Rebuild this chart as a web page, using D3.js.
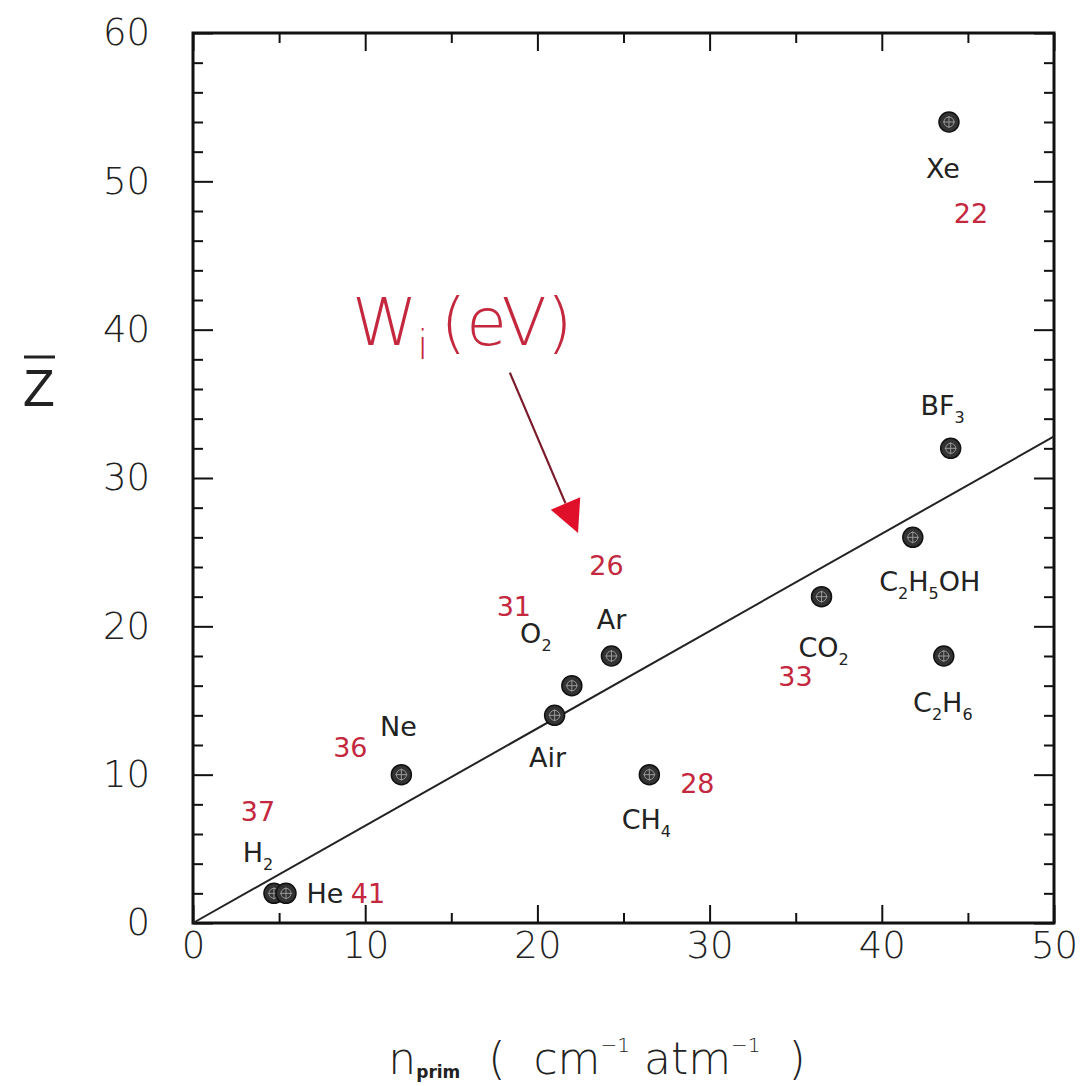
<!DOCTYPE html>
<html>
<head>
<meta charset="utf-8">
<script src="https://cdn.jsdelivr.net/npm/d3@7"></script>
<style>
  html, body { margin: 0; padding: 0; background: #fff; }
  svg { display: block; }
  text { font-family: "DejaVu Sans", sans-serif; }
</style>
</head>
<body>
<svg id="chart" width="1089" height="1086"></svg>
<script>
// ---------- data ----------
const gases      = ["H2", "He", "Ne", "Air", "O2", "Ar", "CH4", "CO2", "C2H5OH", "C2H6", "BF3", "Xe"];
const nPrim      = [4.7, 5.4, 12.1, 21.0, 22.0, 24.3, 26.5, 36.5, 41.8, 43.6, 44.0, 43.9];
const zBar       = [2, 2, 10, 14, 16, 18, 10, 22, 26, 18, 32, 54];
const wiGases    = ["H2", "He", "Ne", "O2", "Ar", "CH4", "CO2", "Xe"];
const wiValues   = [37, 41, 36, 31, 26, 28, 33, 22];
const fitX       = [0, 50];
const fitY       = [0, 32.8];
const xTicks     = [0, 10, 20, 30, 40, 50];
const yTicks     = [0, 10, 20, 30, 40, 50, 60];
const xMinorTicks = [5, 15, 25, 35, 45];
const yMinorTicks = [2, 4, 6, 8, 12, 14, 16, 18, 22, 24, 26, 28, 32, 34, 36, 38, 42, 44, 46, 48, 52, 54, 56, 58];

// ---------- layout (label placement, pixels relative to point) ----------
const nameLayout = {
  H2: [-16, -41], He: [39, 0], Ne: [-3, -48], Air: [-7, 42], O2: [-36, -52], Ar: [0, -37],
  CH4: [-3, 45], CO2: [2, 51], C2H5OH: [17, 44], C2H6: [-1, 46], BF3: [-8, -43], Xe: [-6, 46]
};
const wiLayout = {
  H2: [-16, -82], He: [82, 0], Ne: [-51, -27], O2: [-58, -79], Ar: [-5, -91],
  CH4: [48, 9], CO2: [-26, 80], Xe: [22, 91]
};
const formula = {
  H2: [["H"], ["2", "sub"]], He: [["He"]], Ne: [["Ne"]], Air: [["Air"]], O2: [["O"], ["2", "sub"]],
  Ar: [["Ar"]], CH4: [["CH"], ["4", "sub"]], CO2: [["CO"], ["2", "sub"]],
  C2H5OH: [["C"], ["2", "sub"], ["H"], ["5", "sub"], ["OH"]],
  C2H6: [["C"], ["2", "sub"], ["H"], ["6", "sub"]], BF3: [["BF"], ["3", "sub"]], Xe: [["Xe"]]
};

const red = "#c4283e";
const svg = d3.select("#chart");
const L = 193, R = 1054, T = 33, B = 923;

const x = d3.scaleLinear().domain([0, 50]).range([L, R]);
const y = d3.scaleLinear().domain([0, 60]).range([B, T]);

// ---------- axes ----------
function styleAxis(g) {
  g.select(".domain").remove();
  g.selectAll(".tick line").attr("stroke", "#111").attr("stroke-width", 2);
  g.selectAll(".tick text").attr("fill", "#222").style("font-size", "37px")
    .style("font-weight", "200")
    .style("font-family", "'DejaVu Sans', sans-serif");
}
svg.append("g").attr("transform", `translate(0,${B})`)
  .call(d3.axisBottom(x).tickValues(xTicks).tickSize(-18).tickPadding(9).tickFormat(d3.format("d")))
  .call(styleAxis);
svg.append("g").attr("transform", `translate(0,${B})`)
  .call(d3.axisBottom(x).tickValues(xMinorTicks).tickSize(-10).tickFormat(""))
  .call(styleAxis);
svg.append("g").attr("transform", `translate(0,${T})`)
  .call(d3.axisTop(x).tickValues(xTicks).tickSize(-18).tickFormat(""))
  .call(styleAxis);
svg.append("g").attr("transform", `translate(0,${T})`)
  .call(d3.axisTop(x).tickValues(xMinorTicks).tickSize(-10).tickFormat(""))
  .call(styleAxis);
svg.append("g").attr("transform", `translate(${L},0)`)
  .call(d3.axisLeft(y).tickValues(yTicks).tickSize(-20).tickPadding(43).tickFormat(d3.format("d")))
  .call(styleAxis);
svg.append("g").attr("transform", `translate(${L},0)`)
  .call(d3.axisLeft(y).tickValues(yMinorTicks).tickSize(-10).tickFormat(""))
  .call(styleAxis);
svg.append("g").attr("transform", `translate(${R},0)`)
  .call(d3.axisRight(y).tickValues(yTicks).tickSize(-20).tickFormat(""))
  .call(styleAxis);
svg.append("g").attr("transform", `translate(${R},0)`)
  .call(d3.axisRight(y).tickValues(yMinorTicks).tickSize(-10).tickFormat(""))
  .call(styleAxis);

// frame
svg.append("rect").attr("x", L).attr("y", T).attr("width", R - L).attr("height", B - T)
  .attr("fill", "none").attr("stroke", "#111").attr("stroke-width", 3);

// ---------- fit line ----------
const fit = fitX.map((v, i) => [v, fitY[i]]);
svg.append("path").datum(fit)
  .attr("d", d3.line().x(d => x(d[0])).y(d => y(d[1])))
  .attr("fill", "none").attr("stroke", "#222").attr("stroke-width", 2);

// ---------- points ----------
const pts = gases.map((g, i) => ({ g, n: nPrim[i], z: zBar[i] }));
const pg = svg.append("g").selectAll("g").data(pts).join("g")
  .attr("transform", d => `translate(${x(d.n)},${y(d.z)})`);
pg.append("circle").attr("r", 10).attr("fill", "#333").attr("stroke", "#111").attr("stroke-width", 1.5);
pg.append("circle").attr("r", 5).attr("fill", "none").attr("stroke", "#999").attr("stroke-width", 1);
pg.append("path").attr("d", "M-6,0H6M0,-6V6").attr("stroke", "#999").attr("stroke-width", 1);

// ---------- names ----------
const ng = svg.append("g");
pts.forEach(d => {
  const off = nameLayout[d.g];
  const t = ng.append("text")
    .attr("x", x(d.n) + off[0]).attr("y", y(d.z) + off[1])
    .attr("dy", "0.36em").attr("text-anchor", "middle")
    .style("font-size", "27px").attr("fill", "#222");
  formula[d.g].forEach(p => {
    const s = t.append("tspan").text(p[0]);
    if (p[1] === "sub") s.style("font-size", "16px").attr("dy", "8");
    else if (t.selectAll("tspan").size() > 1) s.attr("dy", "-8");
  });
});

// ---------- Wi values ----------
const wg = svg.append("g");
wiGases.forEach((g, i) => {
  const k = gases.indexOf(g);
  const off = wiLayout[g];
  wg.append("text")
    .attr("x", x(nPrim[k]) + off[0]).attr("y", y(zBar[k]) + off[1])
    .attr("dy", "0.36em").attr("text-anchor", "middle")
    .style("font-size", "27px").attr("fill", red)
    .text(wiValues[i]);
});

// ---------- annotation ----------
const ann = svg.append("text").attr("x", 352).attr("y", 345).attr("fill", red)
  .style("font-size", "66px").style("font-weight", "200");
ann.append("tspan").text("W");
ann.append("tspan").text("i").style("font-size", "40px").attr("dy", "14");
ann.append("tspan").text("(eV)").attr("dy", "-14").attr("dx", "12");

const arrowStart = [18.4, 37.1], arrowTip = [22.36, 26.3];
const sx = x(arrowStart[0]), sy = y(arrowStart[1]), tx = x(arrowTip[0]), ty = y(arrowTip[1]);
const ang = Math.atan2(ty - sy, tx - sx);
const hl = 32, hw = 16;
const bx = tx - hl * Math.cos(ang), by = ty - hl * Math.sin(ang);
svg.append("line").attr("x1", sx).attr("y1", sy).attr("x2", bx).attr("y2", by)
  .attr("stroke", "#7a1a2a").attr("stroke-width", 2.2);
svg.append("path")
  .attr("d", `M${tx},${ty}L${bx + hw * Math.sin(ang)},${by - hw * Math.cos(ang)}L${bx - hw * Math.sin(ang)},${by + hw * Math.cos(ang)}Z`)
  .attr("fill", "#e0102a");

// ---------- axis titles ----------
const xt = svg.append("text").attr("x", 597).attr("y", 1074).attr("text-anchor", "middle")
  .attr("fill", "#222").style("font-size", "44px").style("font-weight", "200").attr("xml:space", "preserve");
xt.append("tspan").text("n");
xt.append("tspan").text("prim").style("font-size", "17px").style("font-weight", "bold").attr("dy", "4");
xt.append("tspan").text("  (  cm").attr("dy", "-4");
xt.append("tspan").text("−1").style("font-size", "20px").attr("dy", "-22");
xt.append("tspan").text(" atm").attr("dy", "22");
xt.append("tspan").text("−1").style("font-size", "20px").attr("dy", "-22");
xt.append("tspan").text("  )").attr("dy", "22");

svg.append("text").attr("x", 39).attr("y", 406).attr("text-anchor", "middle")
  .attr("fill", "#222").style("font-size", "52px").style("font-family", "'Liberation Sans', sans-serif")
  .text("Z");
svg.append("line").attr("x1", 24).attr("x2", 55).attr("y1", 357).attr("y2", 357)
  .attr("stroke", "#222").attr("stroke-width", 3);
</script>
</body>
</html>
